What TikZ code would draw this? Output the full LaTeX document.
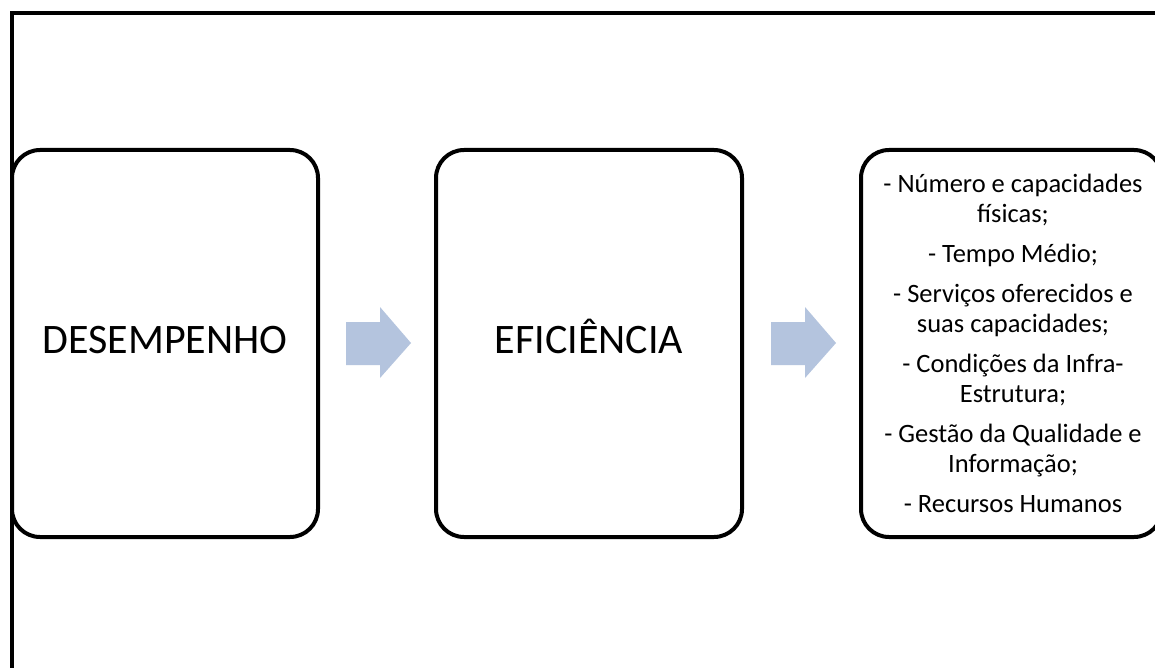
\documentclass[tikz,border=0pt]{standalone}
\usepackage{fontspec}
\setmainfont{Carlito}
\begin{document}
\begin{tikzpicture}[x=1pt,y=-1pt,
  box/.style={draw=black,line width=4pt,rounded corners=28pt,fill=white},
  blockarrow/.style={fill=arrowblue,draw=none},
  bigtext/.style={font=\fontsize{42}{50}\selectfont,anchor=base},
  listtext/.style={font=\fontsize{26.5}{30}\selectfont,align=center}]
\definecolor{arrowblue}{RGB}{180,196,222}
\useasboundingbox (0,0) rectangle (1155,668);
\clip (0,0) rectangle (1155,668);
\fill[white] (0,0) rectangle (1155,668);
% outer frame (only top and left visible)
\draw[line width=4pt] (12,700) -- (12,13) -- (1200,13);
% boxes
\draw[box] (12,150) rectangle (318,537);
\draw[box] (436,150) rectangle (742,537);
\draw[box] (861,150) rectangle (1162,537);
\node[bigtext] (des) at (165,353) {DESEMPENHO};
\node[bigtext] (efi) at (589,353) {EFICIÊNCIA};
\node[listtext] (lst) at (1013,343) {- Número e capacidades\\físicas;\\[10pt]- Tempo Médio;\\[10pt]- Serviços oferecidos e\\suas capacidades;\\[10pt]- Condições da Infra-\\Estrutura;\\[10pt]- Gestão da Qualidade e\\Informação;\\[10pt]- Recursos Humanos};
% block arrows
\fill[blockarrow] (346,322) -- (380,322) -- (380,307) -- (411,343) -- (380,378) -- (380,365) -- (346,365) -- cycle;
\fill[blockarrow] (771,322) -- (805,322) -- (805,307) -- (836,343) -- (805,378) -- (805,365) -- (771,365) -- cycle;
\end{tikzpicture}
\end{document}
